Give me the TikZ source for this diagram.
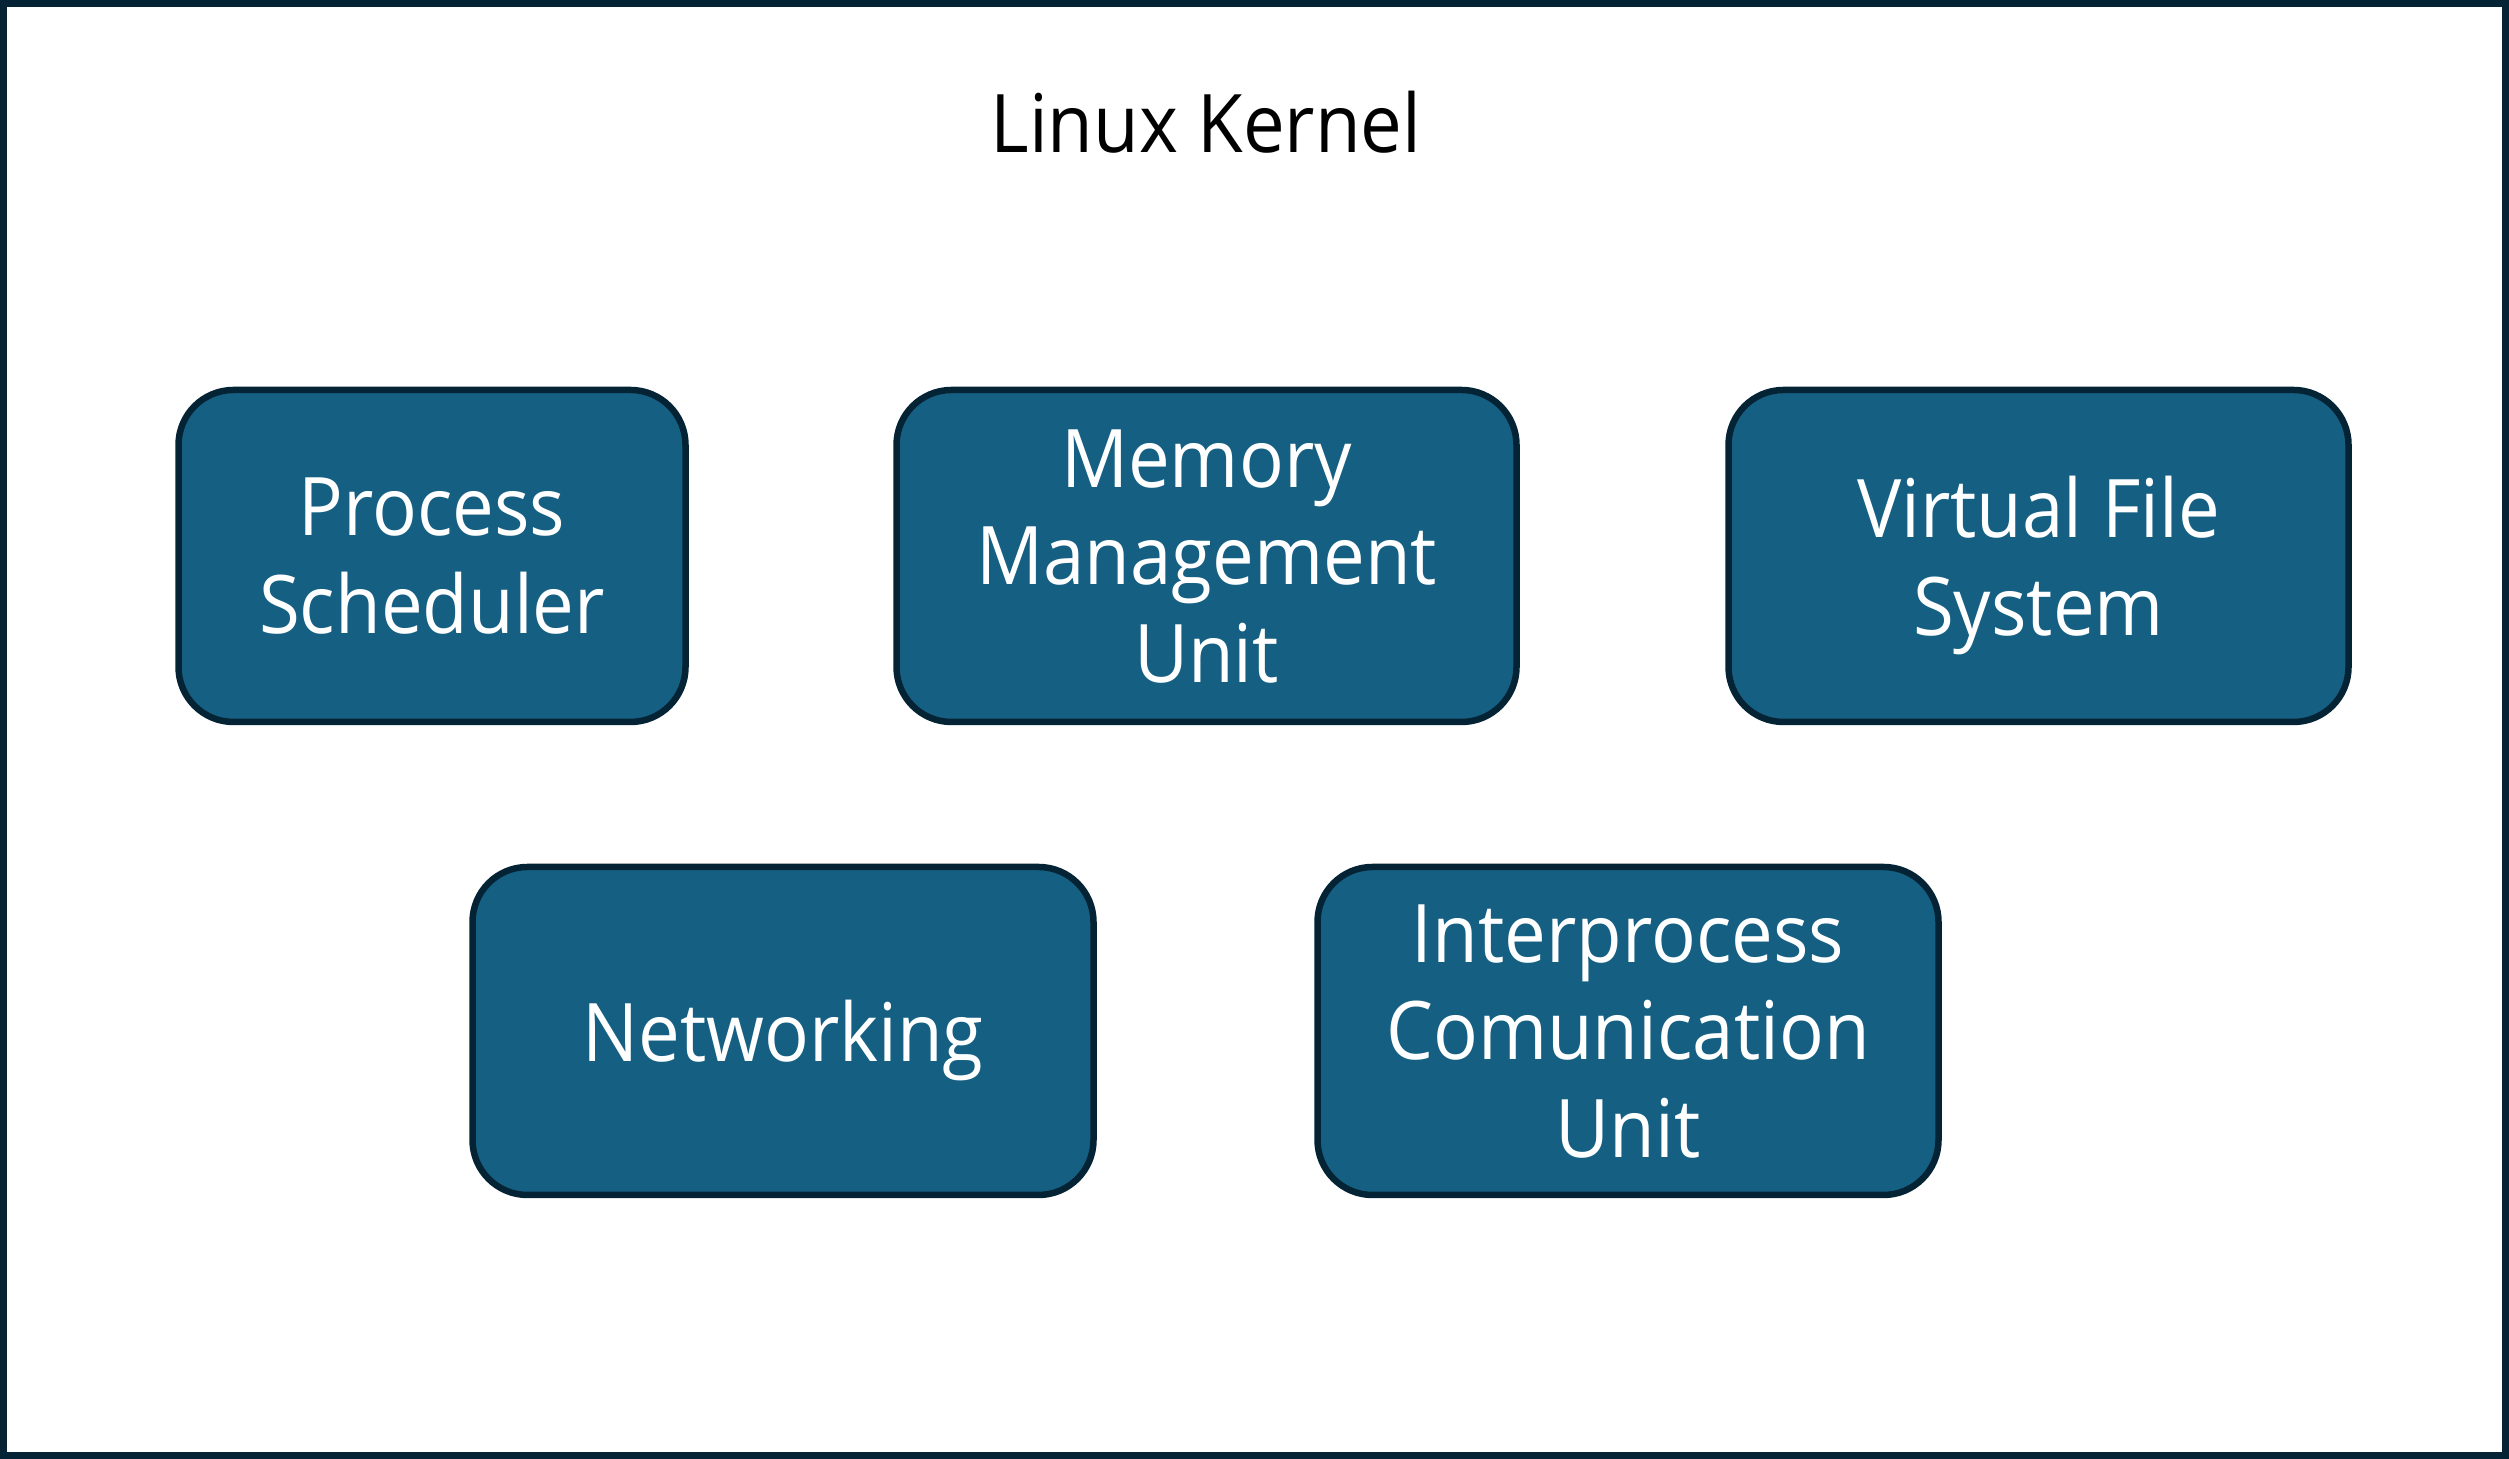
\documentclass[tikz,border=0pt]{standalone}
\usepackage{fontspec}
\setmainfont{Open Sans}[FakeStretch=0.92]
\definecolor{kfill}{RGB}{21,96,130}
\definecolor{kline}{RGB}{4,35,52}

\begin{document}
\begin{tikzpicture}[
  block/.style={draw=kline, line width=0.065cm, fill=kfill, rounded corners=0.55cm,
    text=white, align=center, inner sep=0pt, text depth=0pt,
    minimum height=3.32cm, font=\fontsize{23}{27.8}\selectfont},
  title/.style={anchor=base, font=\fontsize{23}{27.8}\selectfont}
]

% frame
\useasboundingbox (0,0) rectangle (25.09,14.59);
\draw[kline, line width=0.07cm] (0.035,0.035) rectangle (25.055,14.555);

\node[title] (kernel) at (12.06,13.06) {Linux Kernel};

% top row
\node[block, minimum width=5.07cm] (sched) at (4.32,9.03) {Process\\Scheduler};
\node[block, minimum width=6.20cm] (mmu) at (12.065,9.03) {Memory\\Management\\Unit};
\node[block, minimum width=6.20cm] (vfs) at (20.385,9.03) {Virtual File\\System};

% bottom row
\node[block, minimum width=6.21cm, minimum height=3.28cm] (net) at (7.83,4.28) {Networking};
\node[block, minimum width=6.21cm, minimum height=3.28cm] (ipc) at (16.28,4.28) {Interprocess\\Comunication\\Unit};

\end{tikzpicture}
\end{document}
